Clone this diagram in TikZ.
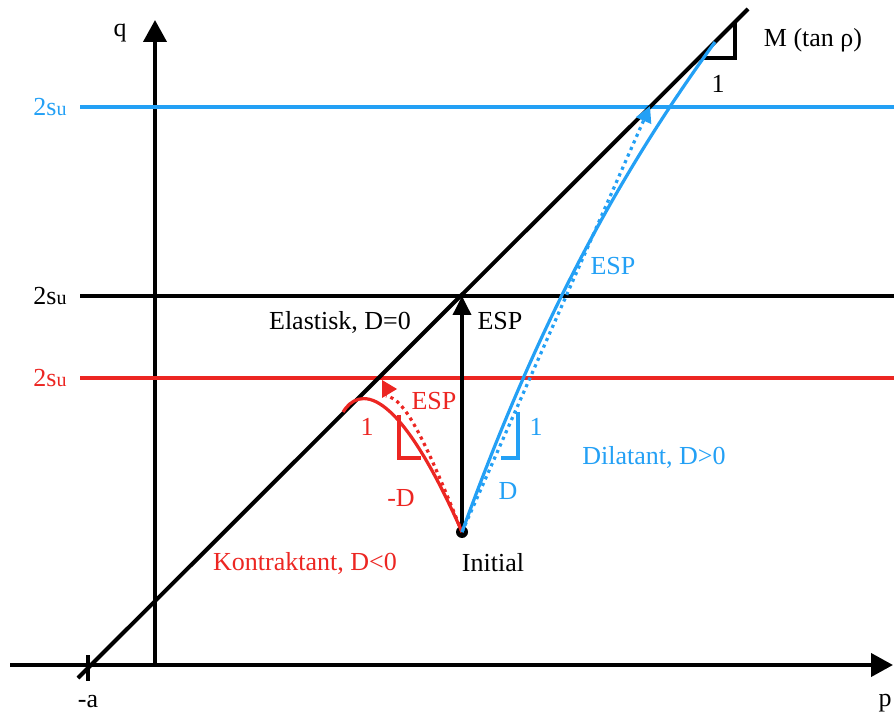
\documentclass[tikz,border=0pt]{standalone}
\usepackage{fontspec}
\setmainfont{Liberation Serif}
\usepackage{xcolor}
\usetikzlibrary{arrows.meta}
\definecolor{espblue}{RGB}{35,160,245}
\definecolor{espred}{RGB}{236,38,34}
\tikzset{every picture/.style={line width=1.6pt}}
\tikzset{axisline/.style={line width=2pt,-{Triangle[width=11.5pt,length=11pt]}},
 dotline/.style={dash pattern=on 1.6pt off 2pt},
 smallu/.style={font=\fontsize{10}{12}\selectfont}}

\begin{document}
\begin{tikzpicture}[x=.5pt,y=-.5pt,
 every node/.style={font=\fontsize{13}{15}\selectfont}]
 \useasboundingbox (0,0) rectangle (894,716);
 % axes
 \coordinate (pstart) at (10,665);
 \coordinate (pend) at (893,665);
 \coordinate (origin) at (155,665);
 \coordinate (qend) at (155,20);
 \draw[axisline] (pstart) -- (pend);
 \draw[axisline] (origin) -- (qend);
 \node (qlabel) at (120,33) {q};
 \node (plabel) at (885,703) {p};
 % levels 2su
 \foreach \yy/\col/\nm in {107/espblue/blue,296/black/black,378/espred/red}{
  \coordinate (\nm L) at (80,\yy);
  \coordinate (\nm R) at (894,\yy);
  \draw[\col] (\nm L) -- (\nm R);
  \node[\col] (su\nm) at (50,\yy) {2s{\fontsize{10}{12}\selectfont u}};
 }
 % critical state line
 \coordinate (csl0) at (78,678);
 \coordinate (csl1) at (748,9);
 \draw[line width=2pt] (csl0) -- (csl1);
 \draw[line width=2pt] (88,655) -- (88,681);
 \node (aneg) at (88,702) {-a};
 \draw[line width=1.8pt] (735,22) -- (735,58) -- (700,58);
 \node (mlabel) at (813,40) {M (tan ρ)};
 \node (mone) at (718,84) {1};
 % start point
 \node[circle,fill,inner sep=0pt,minimum size=6pt] (init) at (462,532) {};
 \node (initlabel) at (493,563) {Initial};
 % elastisk
 \coordinate (peak) at (462,296);
 \draw[line width=1.8pt,-{Triangle[width=9pt,length=9.5pt]}] (init.center) -- (peak);
 \node (espblack) at (500,321) {ESP};
 \node (elast) at (340,322) {Elastisk, D=0};
 % kontraktant
 \draw[espred] (343,412) .. controls (358,388) and (395,380) .. (init.center);
 \draw[espred,dotline] (init.center) .. controls (425,440) and (405,398) .. (386,396);
 \fill[espred] (382,380) -- (397,389) -- (382,398) -- cycle;
 \draw[espred] (399,415) -- (399,458) -- (421,458);
 \node[espred] (espred) at (434,401) {ESP};
 \node[espred] (redone) at (367,427) {1};
 \node[espred] (redD) at (401,498) {-D};
 \node[espred] (kontr) at (305,563) {Kontraktant, D<0};
 % dilatant
 \coordinate (blueend) at (715,42);
 \coordinate (bluetip) at (650,106);
 \draw[espblue] (init.center) .. controls (522,367) and (596,205) .. (blueend);
 \draw[espblue,dotline,-{Triangle[width=8pt,length=8pt]}] (init.center) -- (bluetip);
 \draw[espblue] (518,412) -- (518,458) -- (501,458);
 \node[espblue] (blueone) at (536,427) {1};
 \node[espblue] (blueD) at (508,491) {D};
 \node[espblue] (espblue) at (613,266) {ESP};
 \node[espblue] (dilat) at (654,457) {Dilatant, D>0};
\end{tikzpicture}
\end{document}
